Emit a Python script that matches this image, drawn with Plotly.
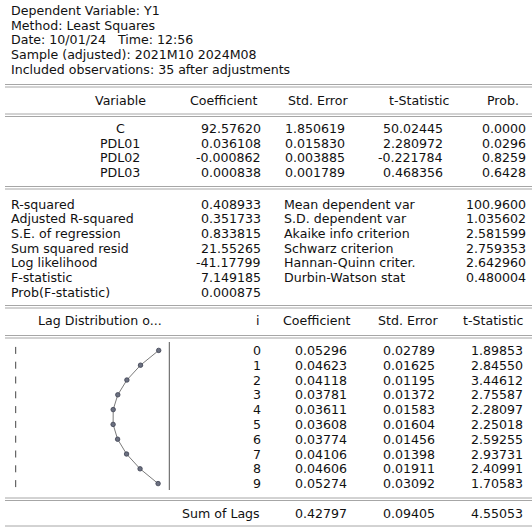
import plotly.graph_objects as go

# ---- regression output ----
header_lines = [
    "Dependent Variable: Y1",
    "Method: Least Squares",
    "Date: 10/01/24   Time: 12:56",
    "Sample (adjusted): 2021M10 2024M08",
    "Included observations: 35 after adjustments",
]

coef_cols = ["Variable", "Coefficient", "Std. Error", "t-Statistic", "Prob."]
var_names = ["C", "PDL01", "PDL02", "PDL03"]
coef_vals = [92.57620, 0.036108, -0.000862, 0.000838]
coef_se = [1.850619, 0.015830, 0.003885, 0.001789]
coef_t = [50.02445, 2.280972, -0.221784, 0.468356]
coef_p = [0.0000, 0.0296, 0.8259, 0.6428]

stat_left_labels = ["R-squared", "Adjusted R-squared", "S.E. of regression",
                    "Sum squared resid", "Log likelihood", "F-statistic",
                    "Prob(F-statistic)"]
stat_left_vals = [0.408933, 0.351733, 0.833815, 21.55265, -41.17799,
                  7.149185, 0.000875]
stat_right_labels = ["Mean dependent var", "S.D. dependent var",
                     "Akaike info criterion", "Schwarz criterion",
                     "Hannan-Quinn criter.", "Durbin-Watson stat"]
stat_right_vals = [100.9600, 1.035602, 2.581599, 2.759353, 2.642960, 0.480004]

lag_cols = ["Lag Distribution o...", "i", "Coefficient", "Std. Error", "t-Statistic"]
lag_i = [0, 1, 2, 3, 4, 5, 6, 7, 8, 9]
lag_coef = [0.05296, 0.04623, 0.04118, 0.03781, 0.03611,
            0.03608, 0.03774, 0.04106, 0.04606, 0.05274]
lag_se = [0.02789, 0.01625, 0.01195, 0.01372, 0.01583,
          0.01604, 0.01456, 0.01398, 0.01911, 0.03092]
lag_t = [1.89853, 2.84550, 3.44612, 2.75587, 2.28097,
         2.25018, 2.59255, 2.93731, 2.40991, 1.70583]
sum_label = "Sum of Lags"
sum_vals = [0.42797, 0.09405, 4.55053]


def fmt7(v):
    """Seven significant digits, EViews style."""
    a = abs(v)
    if a >= 100:
        return f"{v:.4f}"
    if a >= 10:
        return f"{v:.5f}"
    return f"{v:.6f}"


W, H = 532, 529
FONT = dict(family="DejaVu Sans", size=12.6, color="#111111")
LINE = "#a6a6a6"

annotations = []
shapes = []


def text(x, y, s, anchor="left"):
    annotations.append(dict(x=x, y=y, xref="x", yref="y", text=s,
                            showarrow=False, xanchor=anchor, yanchor="middle",
                            borderpad=0, font=FONT))


def hline(y, double=False):
    for dy in ([0, 2.5] if double else [0]):
        shapes.append(dict(type="line", xref="x", yref="y", x0=5, x1=W,
                           y0=y + dy, y1=y + dy,
                           line=dict(color=LINE, width=1)))


# header block
for k, s in enumerate(header_lines):
    text(10, 10.5 + 14.7 * k, s)
hline(84.5, True)

# coefficient table
ROW = 14.7
head_x = [120, 224, 318, 419, 503]
for s, x in zip(coef_cols, head_x):
    text(x, 100, s, "center")
hline(114, True)
for k in range(len(var_names)):
    y = 128.3 + ROW * k
    text(120, y, var_names[k], "center")
    text(262, y, fmt7(coef_vals[k]), "right")
    text(346, y, fmt7(coef_se[k]), "right")
    text(444, y, fmt7(coef_t[k]), "right")
    text(527, y, f"{coef_p[k]:.4f}", "right")
hline(186.5, True)

# summary statistics
for k, s in enumerate(stat_left_labels):
    y = 204 + ROW * k
    text(10, y, s)
    text(262, y, fmt7(stat_left_vals[k]), "right")
for k, s in enumerate(stat_right_labels):
    y = 204 + ROW * k
    text(283, y, s)
    text(527, y, fmt7(stat_right_vals[k]), "right")
hline(305.5, True)

# lag distribution table
lag_head_x = [100, 258, 317, 408, 493]
for s, x in zip(lag_cols, lag_head_x):
    text(x, 320, s, "center")
hline(335.5, True)
for k in range(len(lag_i)):
    y = 350.5 + 14.8 * k
    text(262, y, str(lag_i[k]), "right")
    text(348, y, f"{lag_coef[k]:.5f}", "right")
    text(436, y, f"{lag_se[k]:.5f}", "right")
    text(524, y, f"{lag_t[k]:.5f}", "right")
hline(498, True)
text(261, 513, sum_label, "right")
text(348, 513, f"{sum_vals[0]:.5f}", "right")
text(436, 513, f"{sum_vals[1]:.5f}", "right")
text(524, 513, f"{sum_vals[2]:.5f}", "right")
hline(526)

# frame line on the right of the lag graph
shapes.append(dict(type="line", xref="x", yref="y", x0=169.3, x1=169.3,
                   y0=342, y1=490, line=dict(color="#555555", width=1)))

fig = go.Figure()

# zero reference ticks
fig.add_trace(go.Scatter(
    x=[0] * len(lag_i), y=lag_i, xaxis="x2", yaxis="y2", mode="markers",
    marker=dict(symbol="line-ns", size=5, line=dict(color="#444444", width=1)),
    cliponaxis=False, hoverinfo="skip", showlegend=False))

# lag weights
fig.add_trace(go.Scatter(
    x=lag_coef, y=lag_i, xaxis="x2", yaxis="y2", mode="lines+markers",
    line=dict(color="#7a7a7a", width=1),
    marker=dict(symbol="circle", size=4.5, color="#6b7080",
                line=dict(color="#3c4050", width=0.8)),
    cliponaxis=False, hoverinfo="skip", showlegend=False))

x_lo, x_hi = 15.7, 169.3
y_top, y_bot = 343.0, 491.0
px_per_unit = 2700.0

fig.update_layout(
    width=W, height=H,
    margin=dict(l=0, r=0, t=0, b=0),
    paper_bgcolor="white", plot_bgcolor="white",
    xaxis=dict(range=[0, W], visible=False, fixedrange=True,
               domain=[0, 1]),
    yaxis=dict(range=[H, 0], visible=False, fixedrange=True,
               domain=[0, 1]),
    xaxis2=dict(range=[0, (x_hi - x_lo) / px_per_unit], visible=False,
                domain=[x_lo / W, x_hi / W], anchor="y2"),
    yaxis2=dict(range=[9.5, -0.5], visible=False,
                domain=[1 - y_bot / H, 1 - y_top / H], anchor="x2"),
    annotations=annotations,
    shapes=shapes,
    showlegend=False,
)

fig.write_html("out.html")
